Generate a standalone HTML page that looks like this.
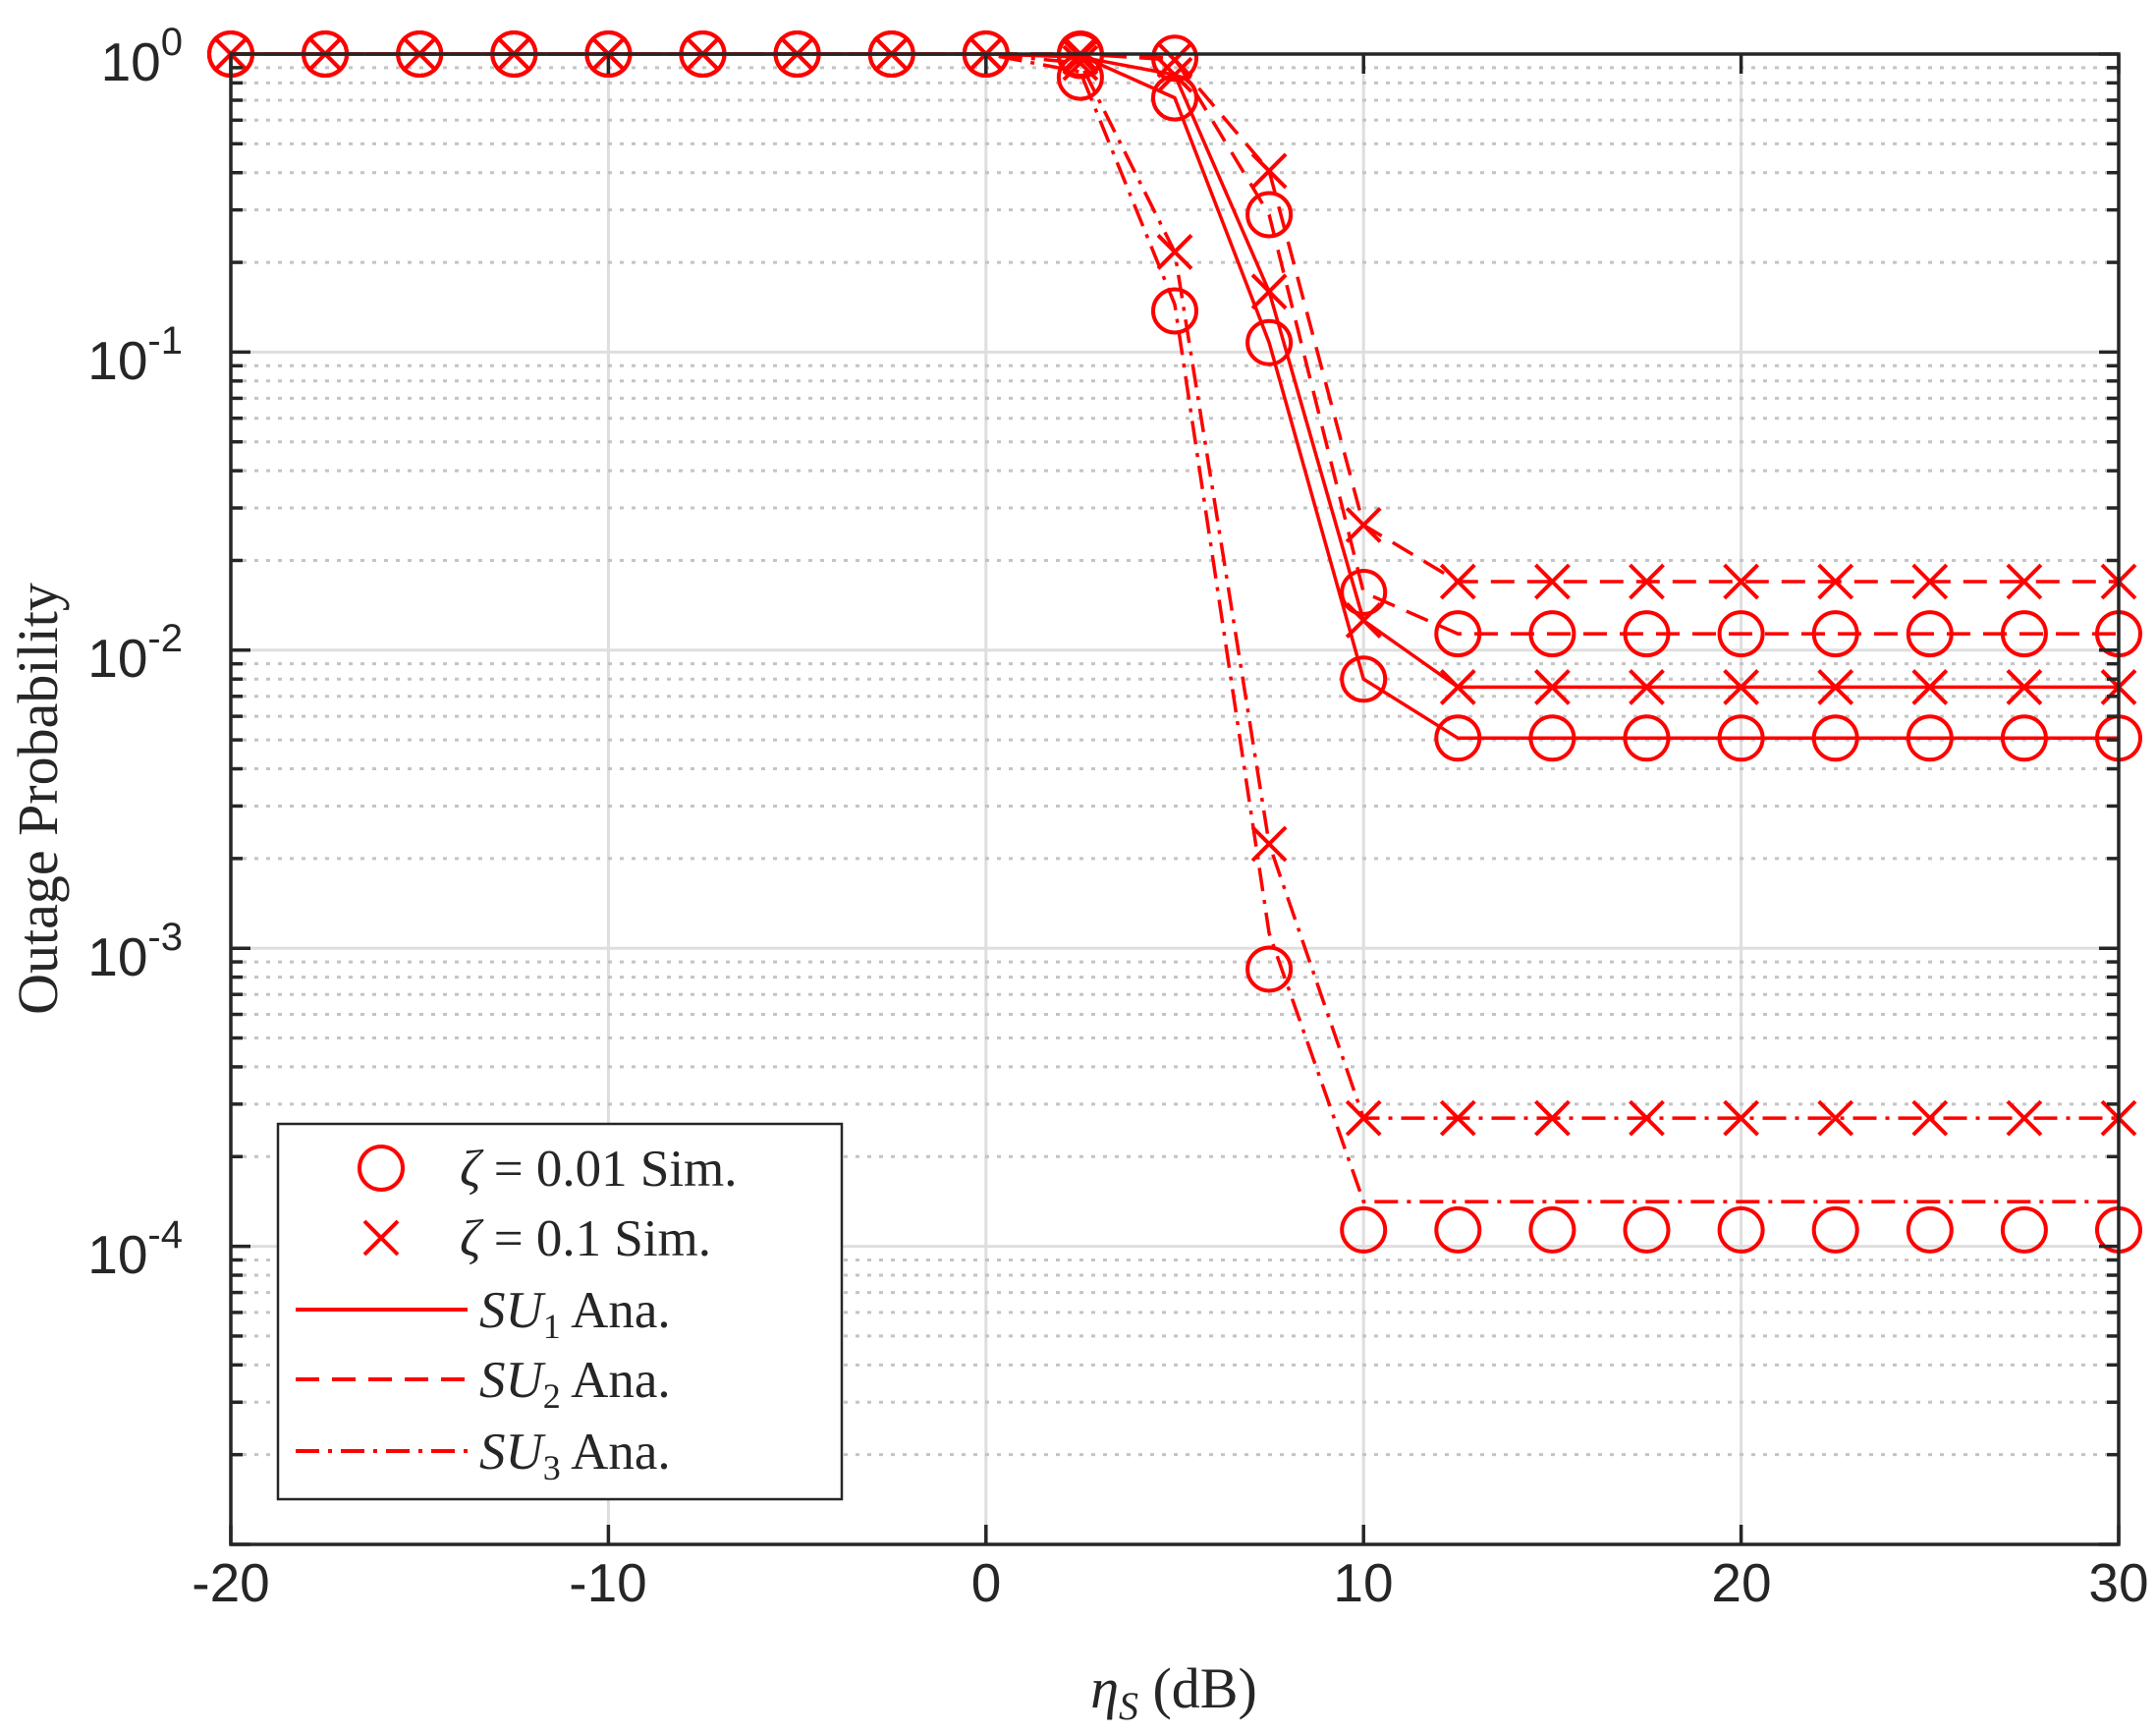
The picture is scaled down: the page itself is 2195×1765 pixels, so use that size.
<!DOCTYPE html>
<html><head><meta charset="utf-8"><style>
html,body{margin:0;padding:0;background:#fff;}
svg{display:block}
.tk{font-family:"Liberation Sans",sans-serif;font-size:55px;fill:#262626}
.sr{font-family:"Liberation Serif","DejaVu Serif",serif;fill:#262626}
</style></head><body>
<svg id="s" width="2195" height="1765" viewBox="0 0 2195 1765" xmlns="http://www.w3.org/2000/svg">
<rect width="2195" height="1765" fill="#fff"/>
<g id="grid"></g>
<g id="data"></g>
<rect x="235" y="55" width="1922" height="1517" fill="none" stroke="#262626" stroke-width="3.5"/>
<g id="ticks"></g>
<g class="tk" text-anchor="middle">
<text x="235" y="1630">-20</text><text x="619" y="1630">-10</text><text x="1004" y="1630">0</text>
<text x="1388" y="1630">10</text><text x="1773" y="1630">20</text><text x="2157" y="1630">30</text>
</g>
<g class="tk" text-anchor="end">
<text x="186" y="82">10<tspan dy="-26" font-size="40">0</tspan></text>
<text x="186" y="386">10<tspan dy="-26" font-size="40">-1</tspan></text>
<text x="186" y="689">10<tspan dy="-26" font-size="40">-2</tspan></text>
<text x="186" y="993">10<tspan dy="-26" font-size="40">-3</tspan></text>
<text x="186" y="1296">10<tspan dy="-26" font-size="40">-4</tspan></text>
</g>
<text class="sr" x="1195" y="1738" font-size="58" text-anchor="middle"><tspan font-style="italic">η</tspan><tspan font-size="40" dy="12" font-style="italic">S</tspan><tspan dy="-12"> (dB)</tspan></text>
<text class="sr" transform="translate(58,813) rotate(-90)" font-size="58" text-anchor="middle">Outage Probability</text>
<rect x="283" y="1144" width="574" height="382" fill="#fff" stroke="#262626" stroke-width="2.5"/>
<g stroke="#f00" stroke-width="4" fill="none">
<circle cx="388" cy="1189" r="22"/>
<path d="M371 1243l34 34M405 1243l-34 34"/>
<path d="M301 1333H476"/>
<path d="M301 1404H476" stroke-dasharray="24,13"/>
<path d="M301 1477H476" stroke-dasharray="24,9,4,9"/>
</g>
<g class="sr" font-size="53">
<text x="468" y="1207"><tspan font-style="italic">ζ</tspan> = 0.01 Sim.</text>
<text x="468" y="1278"><tspan font-style="italic">ζ</tspan> = 0.1 Sim.</text>
<text x="488" y="1351"><tspan font-style="italic">SU</tspan><tspan font-size="36" dy="11">1</tspan><tspan dy="-11"> Ana.</tspan></text>
<text x="488" y="1422"><tspan font-style="italic">SU</tspan><tspan font-size="36" dy="11">2</tspan><tspan dy="-11"> Ana.</tspan></text>
<text x="488" y="1495"><tspan font-style="italic">SU</tspan><tspan font-size="36" dy="11">3</tspan><tspan dy="-11"> Ana.</tspan></text>
</g>
</svg>
<script>
(function(){
var NS="http://www.w3.org/2000/svg";
function X(x){return 235+(x+20)*38.44;}
function Y(l){return 55-l*303.4;}
function el(p,n,a){var e=document.createElementNS(NS,n);for(var k in a)e.setAttribute(k,a[k]);p.appendChild(e);return e;}
var g=document.getElementById('grid'),t=document.getElementById('ticks'),d=document.getElementById('data');
for(var x=-20;x<=30;x+=10){el(g,'line',{x1:X(x),x2:X(x),y1:55,y2:1572,stroke:'#dedede','stroke-width':3});
 el(t,'line',{x1:X(x),x2:X(x),y1:1572,y2:1552,stroke:'#262626','stroke-width':3.5});
 el(t,'line',{x1:X(x),x2:X(x),y1:55,y2:75,stroke:'#262626','stroke-width':3.5});}
for(var dd=0;dd>=-5;dd--){
 if(dd<0&&dd>-5){var y=Y(dd);el(g,'line',{x1:235,x2:2157,y1:y,y2:y,stroke:'#dedede','stroke-width':3});}
 var y=Y(dd);el(t,'line',{x1:235,x2:255,y1:y,y2:y,stroke:'#262626','stroke-width':3.5});el(t,'line',{x1:2157,x2:2137,y1:y,y2:y,stroke:'#262626','stroke-width':3.5});
 if(dd>-5)for(var m=2;m<=9;m++){var yy=Y(dd-1+Math.log10(m));
  el(g,'line',{x1:235,x2:2157,y1:yy,y2:yy,stroke:'#c4c4c4','stroke-width':3,'stroke-dasharray':'4,8'});
  el(t,'line',{x1:235,x2:247,y1:yy,y2:yy,stroke:'#262626','stroke-width':3.5});el(t,'line',{x1:2157,x2:2145,y1:yy,y2:yy,stroke:'#262626','stroke-width':3.5});}
}
var xs=[];for(var x=-20;x<=30.01;x+=2.5)xs.push(x);
function full(a){var r=[];for(var i=0;i<xs.length;i++){if(xs[i]<2.4)r.push(0);else{var j=Math.round((xs[i]-2.5)/2.5);r.push(a[Math.min(j,a.length-1)]);}}return r;}
var S=[
 {v:full([-0.005,-0.147,-0.968,-2.097,-2.295]),m:'o',da:null},
 {v:full([-0.01,-0.07,-0.797,-1.90,-2.124]),m:'x',da:null},
 {v:full([0,-0.014,-0.539,-1.806,-1.945]),m:'o',da:'24,13'},
 {v:full([0,-0.02,-0.392,-1.58,-1.77]),m:'x',da:'24,13'},
 {v:full([-0.078,-0.862,-3.07,-3.945]),lv:full([-0.06,-0.84,-2.95,-3.85]),m:'o',da:'24,9,4,9'},
 {v:full([-0.03,-0.664,-2.65,-3.57]),m:'x',da:'24,9,4,9'}
];
S.forEach(function(s){
 var lv=s.lv||s.v,p='';
 for(var i=0;i<xs.length;i++)p+=(i?'L':'M')+X(xs[i]).toFixed(1)+' '+Y(lv[i]).toFixed(1);
 var a={d:p,fill:'none',stroke:'#f00','stroke-width':3.5};if(s.da)a['stroke-dasharray']=s.da;el(d,'path',a);
 for(var i=0;i<xs.length;i++){var cx=X(xs[i]),cy=Y(s.v[i]);
  if(s.m=='o')el(d,'circle',{cx:cx,cy:cy,r:22,fill:'none',stroke:'#f00','stroke-width':4});
  else el(d,'path',{d:'M'+(cx-17)+' '+(cy-17)+'l34 34M'+(cx+17)+' '+(cy-17)+'l-34 34',stroke:'#f00','stroke-width':4,fill:'none'});}
});
})();
</script>
</body></html>
